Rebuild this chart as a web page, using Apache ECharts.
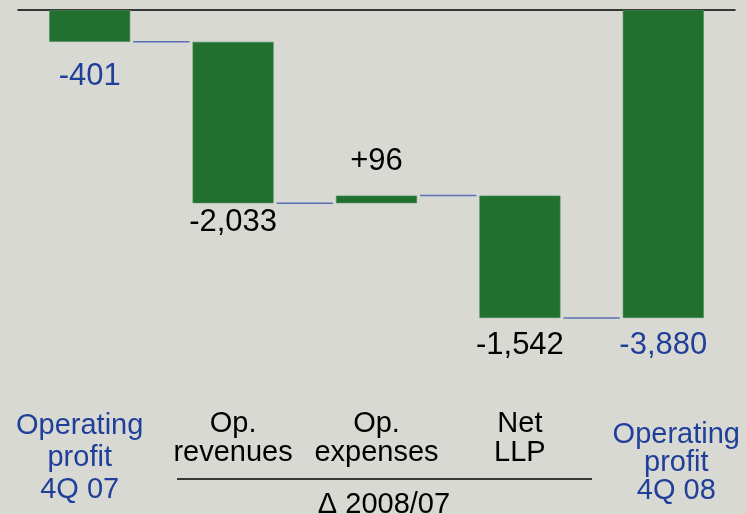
<!DOCTYPE html>
<html>
<head>
<meta charset="utf-8">
<script src="https://cdn.jsdelivr.net/npm/echarts@6/dist/echarts.min.js"></script>
<style>
  html, body { margin: 0; padding: 0; background: #d9d9d4; }
  #chart { width: 746px; height: 514px; }
</style>
</head>
<body>
<div id="chart"></div>
<script>
// categories and values
const categories = ['Operating\nprofit\n4Q 07', 'Op.\nrevenues', 'Op.\nexpenses', 'Net\nLLP', 'Operating\nprofit\n4Q 08']
const changes = [-401, -2033, 96, -1542, -3880]
const isTotal = [true, false, false, false, true]

// waterfall: transparent base + visible part, built from the changes
const base = []
const visible = []
const levels = []
let run = 0
changes.forEach((v, i) => {
  if (isTotal[i]) {
    base.push(0)
    visible.push(v)
    run = v
  } else {
    const next = run + v
    base.push(Math.max(run, next))
    visible.push(-Math.abs(v))
    run = next
  }
  levels.push(run)
})

const green = '#217030'
const blue = '#1f3f98'
const FONT = '"Liberation Sans", Arial, sans-serif'
const barPct = 0.565

const fmt = v => (v > 0 ? '+' : '') + v.toLocaleString('en-US')

// label placement for each bar
const labelPos = ['bottom', 'bottom', 'top', 'bottom', 'bottom']
const labelDist = [19, 4, 19, 12, 12]

const chart = echarts.init(document.getElementById('chart'))

const option = {
  backgroundColor: '#d9d9d4',
  animation: false,
  grid: { left: 18, right: 11, top: 10, height: 317.5 },
  xAxis: [
    {
      type: 'category',
      data: categories,
      position: 'top',
      offset: 2.5,
      axisLine: { lineStyle: { color: '#000', width: 1.5 } },
      axisTick: { show: false },
      axisLabel: { show: false }
    },
    {
      type: 'category',
      data: categories.map((c, i) => {
        if (i === 0) return { value: c, textStyle: { color: blue, lineHeight: 32, padding: [0, 20, 0, 0] } }
        if (i === categories.length - 1) return { value: c, textStyle: { color: blue, lineHeight: 28, padding: [11, 0, 0, 26] } }
        return c
      }),
      position: 'bottom',
      axisLine: { show: false },
      axisTick: { show: false },
      axisLabel: {
        margin: 82,
        fontSize: 29,
        lineHeight: 29,
        color: '#000',
        fontFamily: FONT,
        interval: 0
      }
    }
  ],
  yAxis: {
    type: 'value',
    min: -4000,
    max: 0,
    show: false,
    splitLine: { show: false }
  },
  series: [
    {
      type: 'bar',
      stack: 'w',
      data: base,
      barWidth: (barPct * 100) + '%',
      itemStyle: { color: 'transparent' },
      silent: true
    },
    {
      type: 'bar',
      stack: 'w',
      data: visible.map((v, i) => ({
        value: v,
        label: {
          show: true,
          position: labelPos[i],
          distance: labelDist[i],
          color: isTotal[i] ? blue : '#000'
        }
      })),
      itemStyle: { color: green, borderColor: '#4a8a55', borderWidth: 0.6 },
      label: {
        fontSize: 31,
        fontFamily: FONT,
        formatter: p => fmt(changes[p.dataIndex])
      }
    },
    {
      // thin connector lines between neighbouring bars
      type: 'custom',
      data: levels.slice(0, -1).map((l, i) => [i, l]),
      renderItem: (params, api) => {
        const i = api.value(0)
        const lvl = api.value(1)
        const p1 = api.coord([i, lvl])
        const p2 = api.coord([i + 1, lvl])
        const hw = api.size([1, 0])[0] * barPct / 2
        return {
          type: 'line',
          shape: { x1: p1[0] + hw + 3, y1: p1[1], x2: p2[0] - hw - 3, y2: p2[1] },
          style: { stroke: '#5a70b5', lineWidth: 1.5 }
        }
      },
      z: 1
    }
  ],
  graphic: [
    {
      type: 'line',
      shape: { x1: 177, y1: 479, x2: 592, y2: 479 },
      style: { stroke: '#000', lineWidth: 1.5 }
    },
    {
      type: 'text',
      x: 384,
      y: 505,
      style: {
        text: 'Δ 2008/07',
        fontSize: 29,
        fontFamily: FONT,
        fill: '#000',
        align: 'center',
        verticalAlign: 'middle'
      }
    }
  ]
}

chart.setOption(option)
</script>
</body>
</html>
